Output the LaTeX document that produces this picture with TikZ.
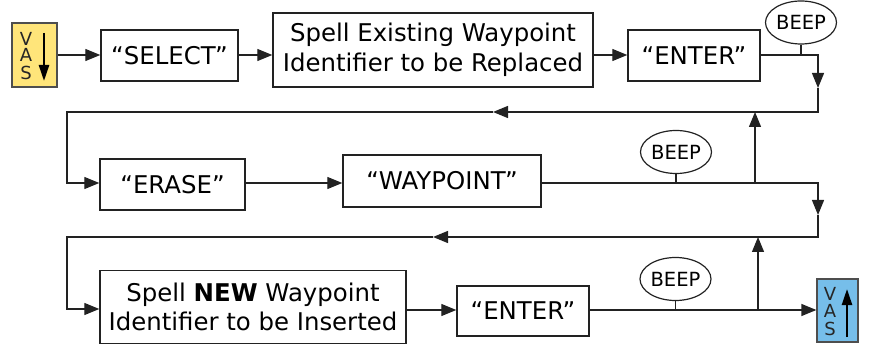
\documentclass[tikz,border=0pt]{standalone}
\usepackage{fontspec}
\setmainfont{DejaVu Sans}
\usetikzlibrary{shapes.geometric,arrows.meta,calc}
\definecolor{vasyellow}{RGB}{255,229,122}
\definecolor{vasblue}{RGB}{118,190,234}
\definecolor{edgec}{RGB}{34,34,34}
\begin{document}
\begin{tikzpicture}[x=1pt,y=-1pt,
  box/.style={draw=edgec,line width=1.4pt,inner sep=0pt,align=center,font=\fontsize{24.4}{29.5}\selectfont},
  beep/.style={draw=edgec,ellipse,line width=1.2pt,inner sep=0pt,minimum width=71pt,minimum height=43pt,font=\fontsize{19.5}{19.5}\selectfont},
  conn/.style={draw=edgec,line width=1.3pt},
  arr/.style={conn,-{Triangle[length=15pt,width=12pt]}},
  vasbox/.style={draw=edgec!80,line width=1.3pt,inner sep=0pt,minimum width=45pt,minimum height=64pt},
  vasletter/.style={inner sep=0pt,font=\fontsize{18}{18}\selectfont,text=black!85},
  vasarr/.style={draw=black,line width=2.4pt,-{Triangle[length=16pt,width=10pt]}}
]
\useasboundingbox (0,0) rectangle (874,344);

% VAS input
\node[vasbox,fill=vasyellow] (vas1) at (34.5,55) {};
\node[vasletter] (vas1v) at ($(vas1.center)+(-8.5,-16.5)$) {V};
\node[vasletter] (vas1a) at ($(vas1.center)+(-8.5,0)$) {A};
\node[vasletter] (vas1s) at ($(vas1.center)+(-8.5,18)$) {S};
\coordinate (vas1p) at ($(vas1.center)+(9.5,-22)$);
\coordinate (vas1q) at ($(vas1.center)+(9.5,26)$);
\draw[vasarr] (vas1p) -- (vas1q);

% row 1
\node[box,minimum width=137pt,minimum height=51pt] (select) at (169.5,55.5) {“SELECT”};
\node[box,minimum width=320pt,minimum height=74pt] (spell1) at (433,50) {Spell Existing Waypoint\\Identifier to be Replaced};
\node[box,minimum width=132pt,minimum height=51pt] (enter1) at (694,55.5) {“ENTER”};
\node[beep] (beep1) at (801,22.5) {BEEP};

% row 2
\node[box,minimum width=145pt,minimum height=51pt] (erase) at (172.5,184.5) {“ERASE”};
\node[box,minimum width=198pt,minimum height=52pt] (waypoint) at (442,181) {“WAYPOINT”};
\node[beep] (beep2) at (676,152) {BEEP};

% row 3
\node[box,minimum width=306pt,minimum height=73pt] (spell2) at (253,307) {Spell \textbf{NEW} Waypoint\\Identifier to be Inserted};
\node[box,minimum width=132pt,minimum height=50pt] (enter2) at (523,311) {“ENTER”};
\node[beep] (beep3) at (675.5,279) {BEEP};

% VAS output
\node[vasbox,fill=vasblue,minimum width=41pt,minimum height=63pt] (vas2) at (837.5,310.5) {};
\node[vasletter] (vas2v) at ($(vas2.center)+(-7.5,-16.5)$) {V};
\node[vasletter] (vas2a) at ($(vas2.center)+(-7.5,0)$) {A};
\node[vasletter] (vas2s) at ($(vas2.center)+(-7.5,18)$) {S};
\coordinate (vas2p) at ($(vas2.center)+(9.5,26.5)$);
\coordinate (vas2q) at ($(vas2.center)+(9.5,-21.5)$);
\draw[vasarr] (vas2p) -- (vas2q);

% routing coordinates
\coordinate (r1) at (0,55);
\coordinate (k1) at (818,55);
\coordinate (t1) at (818,88);
\coordinate (k2) at (818,112);
\coordinate (t2) at (493,112);
\coordinate (k3) at (67,112);
\coordinate (r2) at (67,183);
\coordinate (k4) at (818,183);
\coordinate (t3) at (818,215);
\coordinate (k5) at (818,237);
\coordinate (t4) at (433,237);
\coordinate (k6) at (67,237);
\coordinate (r3) at (67,309);
\coordinate (r4) at (0,310);
\coordinate (j1) at (755,183);
\coordinate (j2) at (758,310);

% row 1 connectors
\draw[arr] (vas1.east |- r1) -- (select.west |- r1);
\draw[arr] (select.east |- r1) -- (spell1.west |- r1);
\draw[arr] (spell1.east |- r1) -- (enter1.west |- r1);
\draw[arr] (enter1.east |- r1) -- (k1) -- (t1);
\draw[arr] (t1) -- (k2) -- (t2);
\draw[arr] (t2) -- (k3) -- (r2) -- (erase.west |- r2);
\draw[conn] (beep1.south) -- (beep1.south |- r1);

% row 2 connectors
\draw[arr] (erase.east |- r2) -- (waypoint.west |- r2);
\draw[arr] (waypoint.east |- r2) -- (k4) -- (t3);
\draw[arr] (t3) -- (k5) -- (t4);
\draw[arr] (t4) -- (k6) -- (r3) -- (spell2.west |- r3);
\draw[arr] (j1) -- (j1 |- k2);
\draw[conn] (beep2.south) -- (beep2.south |- r2);

% row 3 connectors
\draw[arr] (spell2.east |- r4) -- (enter2.west |- r4);
\draw[arr] (enter2.east |- r4) -- (vas2.west |- r4);
\draw[arr] (j2) -- (j2 |- k5);
\draw[conn] (beep3.south) -- (beep3.south |- r4);
\end{tikzpicture}
\end{document}
